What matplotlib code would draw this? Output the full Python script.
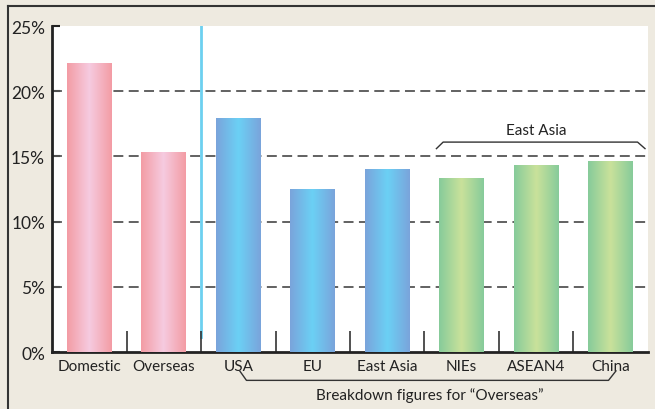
import matplotlib
matplotlib.use("Agg")
import matplotlib.pyplot as plt
import numpy as np
from matplotlib.colors import LinearSegmentedColormap
from matplotlib.lines import Line2D
import matplotlib.transforms as mtransforms

categories = ["Domestic", "Overseas", "USA", "EU", "East Asia", "NIEs", "ASEAN4", "China"]
values = [22.1, 15.3, 17.9, 12.5, 14.0, 13.3, 14.3, 14.6]
groups = ["pink", "pink", "blue", "blue", "blue", "green", "green", "green"]
yticks = [0, 5, 10, 15, 20, 25]

palettes = {
    "pink": ["#F39CA4", "#F6CBE0", "#F39CA4"],
    "blue": ["#7AA4DB", "#6BD0F5", "#7AA4DB"],
    "green": ["#86CB9A", "#C9E19B", "#86CB9A"],
}
bg = "#EEEAE0"
width = 0.6

plt.rcParams["font.family"] = ["Lato", "DejaVu Sans"]

fig = plt.figure(figsize=(6.55, 4.10), dpi=100, facecolor=bg)
ax = fig.add_axes([0.0794, 0.139, 0.9099, 0.795])
ax.set_facecolor("white")

x = np.arange(len(categories))
bars = ax.bar(x, values, width=width, color="none", zorder=3)
grad = np.linspace(0, 1, 256).reshape(1, -1)
for b, g in zip(bars, groups):
    cmap = LinearSegmentedColormap.from_list(g, palettes[g])
    x0, w, h = b.get_x(), b.get_width(), b.get_height()
    ax.imshow(grad, cmap=cmap, extent=(x0, x0 + w, 0, h), aspect="auto", zorder=3)

ax.set_xlim(-0.5, len(categories) - 0.5)
ax.set_ylim(0, 25)

# dashed grid
for yv in yticks[1:-1]:
    ax.axhline(yv, color="#555555", lw=1.3, ls=(0, (5.5, 3)), zorder=2)

# separator between totals and breakdown
ax.axvline(1.5, ymin=0.046, color="#6DD0F0", lw=2, zorder=1)

ax.set_yticks(yticks)
ax.set_yticklabels([f"{v}%" for v in yticks])
ax.set_xticks(x)
ax.set_xticklabels(categories)
ax.set_xticks(np.arange(0.5, len(categories) - 1, 1), minor=True)
ax.tick_params(axis="y", direction="in", length=6, width=1.5, color="#222222",
               labelsize=12.5, labelcolor="#222222", pad=5)
ax.tick_params(axis="x", which="major", length=0, labelsize=11, labelcolor="#222222", pad=5)
ax.tick_params(axis="x", which="minor", direction="in", length=15, width=1.2, color="#333333")

for s in ["top", "right"]:
    ax.spines[s].set_visible(False)
for s in ["left", "bottom"]:
    ax.spines[s].set_linewidth(2)
    ax.spines[s].set_color("#222222")

# East Asia bracket
ax.plot([4.66, 4.75, 7.36, 7.46], [15.6, 16.1, 16.1, 15.6], color="#333333", lw=1, zorder=4)
ax.text(6.0, 16.5, "East Asia", ha="center", va="bottom", fontsize=11, color="#222222")

# breakdown bracket below axis
trans = mtransforms.blended_transform_factory(ax.transData, ax.transAxes)
ax.plot([2.02, 2.11, 6.97, 7.07], [-0.058, -0.087, -0.087, -0.058], color="#333333",
        lw=1, transform=trans, clip_on=False)
ax.text(4.57, -0.108, "Breakdown figures for \u201cOverseas\u201d", ha="center", va="top",
        fontsize=11, color="#222222", transform=trans)

# figure frame lines
fig.add_artist(Line2D([0.0122, 0.0122], [0, 0.983], color="#333333", lw=1.5))
fig.add_artist(Line2D([0.0122, 1], [0.983, 0.983], color="#333333", lw=1.5))

fig.savefig("out.png", dpi=100, facecolor=bg)
